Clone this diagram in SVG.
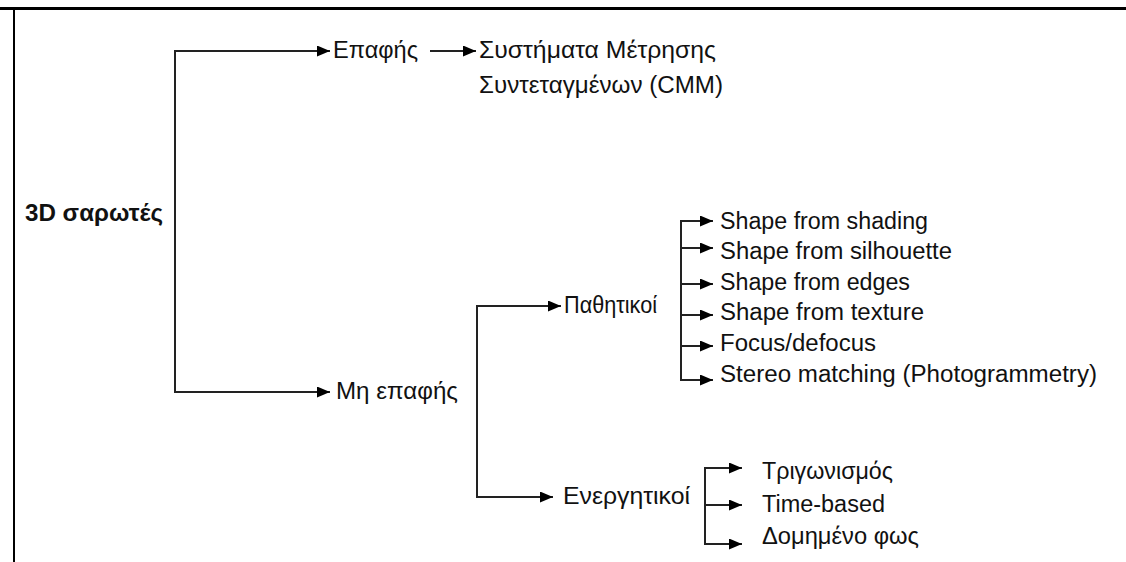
<svg xmlns="http://www.w3.org/2000/svg" width="1126" height="562" viewBox="0 0 1126 562">
<defs>
<marker id="ah" markerUnits="userSpaceOnUse" markerWidth="13" markerHeight="11" refX="13" refY="5.5" orient="auto">
<path d="M0,0 L13,5.5 L0,11 z" fill="#000"/>
</marker>
<style>
.t{font-family:"Liberation Sans",Arial,sans-serif;font-size:23px;fill:#111;}
.b{font-weight:bold;}
.c{fill:none;stroke:#222;stroke-width:2;}
.a{fill:none;stroke:#222;stroke-width:2;marker-end:url(#ah);}
</style>
</defs>
<rect width="1126" height="562" fill="#fff"/>
<g id="frame">
<line x1="0" y1="8.5" x2="1126" y2="8.5" stroke="#000" stroke-width="3"/>
<line x1="14" y1="8" x2="14" y2="562" stroke="#000" stroke-width="2"/>
</g>
<g id="connectors">
<path class="c" d="M175,51 V392"/>
<line class="a" x1="174" y1="51" x2="330" y2="51"/>
<line class="a" x1="174" y1="392" x2="330" y2="392"/>
<line class="a" x1="430" y1="51" x2="476" y2="51"/>
<path class="c" d="M477,306 V497"/>
<line class="a" x1="476" y1="306" x2="561" y2="306"/>
<line class="a" x1="476" y1="497" x2="553" y2="497"/>
<path class="c" d="M681,221 V380"/>
<line class="a" x1="680" y1="221" x2="713" y2="221"/>
<line class="a" x1="680" y1="248" x2="713" y2="248"/>
<line class="a" x1="680" y1="284" x2="713" y2="284"/>
<line class="a" x1="680" y1="315" x2="713" y2="315"/>
<line class="a" x1="680" y1="346" x2="713" y2="346"/>
<line class="a" x1="680" y1="380" x2="713" y2="380"/>
<path class="c" d="M705,468 V544"/>
<line class="a" x1="704" y1="468" x2="742" y2="468"/>
<line class="a" x1="704" y1="505" x2="742" y2="505"/>
<line class="a" x1="704" y1="544" x2="742" y2="544"/>
</g>
<g id="root"><text class="t b" x="25" y="221" textLength="138" lengthAdjust="spacingAndGlyphs">3D σαρωτές</text></g>
<g id="epafis"><text class="t" x="333" y="58" textLength="85" lengthAdjust="spacingAndGlyphs">Επαφής</text></g>
<g id="cmm">
<text class="t" x="479" y="58" textLength="237" lengthAdjust="spacingAndGlyphs">Συστήματα Μέτρησης</text>
<text class="t" x="479" y="93" textLength="244" lengthAdjust="spacingAndGlyphs">Συντεταγμένων (CMM)</text>
</g>
<g id="mi-epafis"><text class="t" x="336" y="399" textLength="122" lengthAdjust="spacingAndGlyphs">Μη επαφής</text></g>
<g id="pathitikoi"><text class="t" x="564" y="313" textLength="93" lengthAdjust="spacingAndGlyphs">Παθητικοί</text></g>
<g id="energitikoi"><text class="t" x="563" y="504" textLength="127" lengthAdjust="spacingAndGlyphs">Ενεργητικοί</text></g>
<g id="shading"><text class="t" x="720" y="229" textLength="208" lengthAdjust="spacingAndGlyphs">Shape from shading</text></g>
<g id="silhouette"><text class="t" x="720" y="259" textLength="232" lengthAdjust="spacingAndGlyphs">Shape from silhouette</text></g>
<g id="edges"><text class="t" x="720" y="290" textLength="190" lengthAdjust="spacingAndGlyphs">Shape from edges</text></g>
<g id="texture"><text class="t" x="720" y="320" textLength="204" lengthAdjust="spacingAndGlyphs">Shape from texture</text></g>
<g id="focus"><text class="t" x="720" y="351" textLength="156" lengthAdjust="spacingAndGlyphs">Focus/defocus</text></g>
<g id="stereo"><text class="t" x="720" y="382" textLength="377" lengthAdjust="spacingAndGlyphs">Stereo matching (Photogrammetry)</text></g>
<g id="trigonismos"><text class="t" x="762" y="479" textLength="131" lengthAdjust="spacingAndGlyphs">Τριγωνισμός</text></g>
<g id="timebased"><text class="t" x="762" y="512" textLength="123" lengthAdjust="spacingAndGlyphs">Time-based</text></g>
<g id="domimeno"><text class="t" x="762" y="544" textLength="157" lengthAdjust="spacingAndGlyphs">Δομημένο φως</text></g>
</svg>
